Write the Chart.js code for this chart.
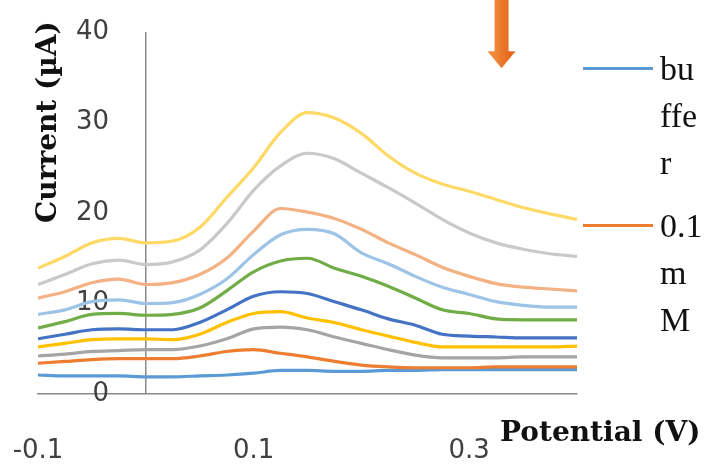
<!DOCTYPE html>
<html>
<head>
<meta charset="utf-8">
<script src="https://cdn.jsdelivr.net/npm/chart.js@4.4.1/dist/chart.umd.min.js"></script>
<style>
  html, body { margin: 0; padding: 0; background: #fff; }
  #wrap { position: relative; width: 704px; height: 466px; overflow: hidden; }
  canvas { position: absolute; left: 0; top: 0; }
  .legend { position: absolute; left: 660px; width: 44px; font-family: "Liberation Serif", serif; font-size: 34px; line-height: 47px; color: #111; word-break: break-all; }
  .swatch { position: absolute; left: 583px; width: 70px; height: 3px; }
  .xtitle { position: absolute; left: 500px; top: 418px; font-family: "DejaVu Serif", serif; font-weight: bold; font-size: 28px; line-height: 28px; color: #111; white-space: nowrap; }
  .ytitle { position: absolute; left: 33px; top: 223px; font-family: "DejaVu Serif", serif; font-weight: bold; font-size: 28px; line-height: 28px; color: #111; white-space: nowrap; transform: rotate(-90deg); transform-origin: 0 0; }
</style>
</head>
<body>
<div id="wrap">
  <canvas id="c" width="704" height="466"></canvas>
  <div class="swatch" id="sw0" style="top:67px"></div>
  <div class="legend" id="lg0" style="top:45px"></div>
  <div class="swatch" id="sw1" style="top:224px"></div>
  <div class="legend" id="lg1" style="top:202px"></div>
  <div class="xtitle">Potential (V)</div>
  <div class="ytitle">Current (µA)</div>
</div>
<script>
// ---- data ----
const potential = [-0.1,-0.075,-0.05,-0.025,0,0.025,0.05,0.075,0.1,0.125,0.15,0.175,0.2,0.225,0.25,0.275,0.3,0.325,0.35,0.375,0.4];
const seriesNames = ['buffer','0.1 mM','0.2 mM','0.3 mM','0.4 mM','0.5 mM','0.6 mM','0.7 mM','0.8 mM','0.9 mM'];
const buffer = [2.1,2.0,2.0,2.0,1.9,1.9,2.0,2.1,2.3,2.6,2.6,2.5,2.5,2.6,2.6,2.7,2.7,2.7,2.7,2.7,2.7];
const c01 = [3.4,3.6,3.8,3.9,3.9,3.9,4.2,4.7,4.9,4.5,4.1,3.6,3.2,3.0,2.9,2.9,2.9,3.0,3.0,3.0,3.0];
const c02 = [4.2,4.4,4.7,4.8,4.9,4.9,5.3,6.1,7.2,7.4,7.1,6.3,5.6,4.9,4.3,4.0,4.0,4.0,4.1,4.1,4.1];
const c03 = [5.2,5.6,6.0,6.1,6.1,6.0,6.6,7.9,8.9,9.1,8.4,7.9,7.1,6.4,5.7,5.2,5.2,5.2,5.2,5.2,5.3];
const c04 = [6.1,6.6,7.1,7.2,7.1,7.1,7.9,9.3,10.8,11.3,11.1,10.2,9.3,8.3,7.6,6.6,6.4,6.3,6.2,6.2,6.2];
const c05 = [7.3,8.0,8.8,8.9,8.7,8.8,9.5,11.4,13.5,14.7,15.0,13.9,13.0,11.9,10.6,9.3,8.9,8.3,8.2,8.2,8.2];
const c06 = [8.8,9.3,10.2,10.4,10.0,10.1,11.0,12.7,15.4,17.6,18.2,17.7,15.6,14.4,13.0,11.8,11.0,10.2,9.8,9.6,9.6];
const c07 = [10.6,11.3,12.3,12.7,12.1,12.3,13.2,15.0,18.0,20.5,20.1,19.4,18.2,16.7,15.4,14.0,13.0,12.2,11.8,11.6,11.4];
const c08 = [12.1,13.2,14.4,14.8,14.3,14.6,15.9,18.8,22.5,25.2,26.6,26.0,24.4,22.8,21.1,19.3,17.8,16.7,16.0,15.5,15.2];
const c09 = [13.9,15.2,16.7,17.2,16.7,16.9,18.4,21.7,25.0,28.9,31.1,30.5,28.8,26.3,24.4,23.2,22.4,21.5,20.6,19.9,19.3];
const seriesValues = [buffer,c01,c02,c03,c04,c05,c06,c07,c08,c09];
const seriesColors = ['#5B9BD5','#ED7D31','#A5A5A5','#FFC000','#4472C4','#70AD47','#9DC3E6','#F4B183','#C9C9C9','#FFD966'];
const xTickValues = [-0.1, 0.1, 0.3];
const xTickLabels = ['-0.1', '0.1', '0.3'];
const yTickValues = [0, 10, 20, 30, 40];
const yAxisCrossAt = 0;
const arrowX = 0.33, arrowTipY = 36;
const axisColor = '#8a8a8a';

// ---- legend (first two entries visible, as in the reference) ----
for (let i = 0; i < 2; i++) {
  document.getElementById('sw' + i).style.background = seriesColors[i];
  document.getElementById('lg' + i).textContent = seriesNames[i];
}

const datasets = seriesValues.map((vals, i) => ({
  label: seriesNames[i],
  data: vals.map((v, j) => ({ x: potential[j], y: v })),
  borderColor: seriesColors[i],
  backgroundColor: seriesColors[i],
  borderWidth: 3.2,
  pointRadius: 0,
  tension: 0.4,
  cubicInterpolationMode: 'monotone',
  fill: false,
  order: seriesValues.length - i
}));

const arrowPlugin = {
  id: 'arrow',
  afterDraw(chart) {
    const { ctx, scales } = chart;
    const x = scales.x.getPixelForValue(arrowX);
    const tip = scales.y.getPixelForValue(arrowTipY);
    ctx.save();
    const g = ctx.createLinearGradient(x - 8, 0, x + 8, 0);
    g.addColorStop(0, '#F28A3C');
    g.addColorStop(1, '#E56A1C');
    ctx.fillStyle = g;
    ctx.fillRect(x - 7, 0, 14, tip - 16);
    ctx.beginPath();
    ctx.moveTo(x - 14, tip - 17);
    ctx.lineTo(x + 14, tip - 17);
    ctx.lineTo(x, tip);
    ctx.closePath();
    ctx.fill();
    ctx.restore();
  }
};

function noPad(scale) {
  scale.paddingLeft = 0; scale.paddingRight = 0; scale.paddingTop = 0; scale.paddingBottom = 0;
}

new Chart(document.getElementById('c'), {
  type: 'line',
  data: { datasets },
  plugins: [arrowPlugin],
  options: {
    responsive: false,
    animation: false,
    events: [],
    layout: { padding: { left: 38, right: 127, top: 32, bottom: 0 } },
    plugins: { legend: { display: false }, tooltip: { enabled: false }, title: { display: false } },
    scales: {
      x: {
        type: 'linear',
        position: 'bottom',
        min: -0.1,
        max: 0.4,
        afterBuildTicks(scale) { scale.ticks = [...xTickValues, yAxisCrossAt].map(v => ({ value: v })); },
        afterFit(scale) { scale.height = 72; noPad(scale); },
        grid: {
          display: true, drawOnChartArea: true, drawTicks: false, lineWidth: 1.5,
          color: (ctx) => (ctx.tick && ctx.tick.value === yAxisCrossAt) ? axisColor : 'rgba(0,0,0,0)'
        },
        border: { display: true, color: axisColor, width: 1.5 },
        ticks: {
          padding: 42,
          color: '#404040',
          font: { family: 'DejaVu Sans', size: 26 },
          maxRotation: 0,
          autoSkip: false,
          callback: (v) => { const k = xTickValues.indexOf(v); return k >= 0 ? xTickLabels[k] : ''; }
        }
      },
      y: {
        type: 'linear',
        position: 'left',
        min: 0,
        max: 40,
        afterBuildTicks(scale) { scale.ticks = yTickValues.map(v => ({ value: v })); },
        afterFit(scale) { scale.width = 0; noPad(scale); },
        grid: { display: true, drawOnChartArea: false, drawTicks: false, color: 'rgba(0,0,0,0)' },
        border: { display: false },
        ticks: {
          mirror: true,
          crossAlign: 'far',
          padding: 38,
          color: '#404040',
          font: { family: 'DejaVu Sans', size: 26 },
          callback: (v) => String(v)
        }
      }
    }
  }
});
</script>
</body>
</html>
